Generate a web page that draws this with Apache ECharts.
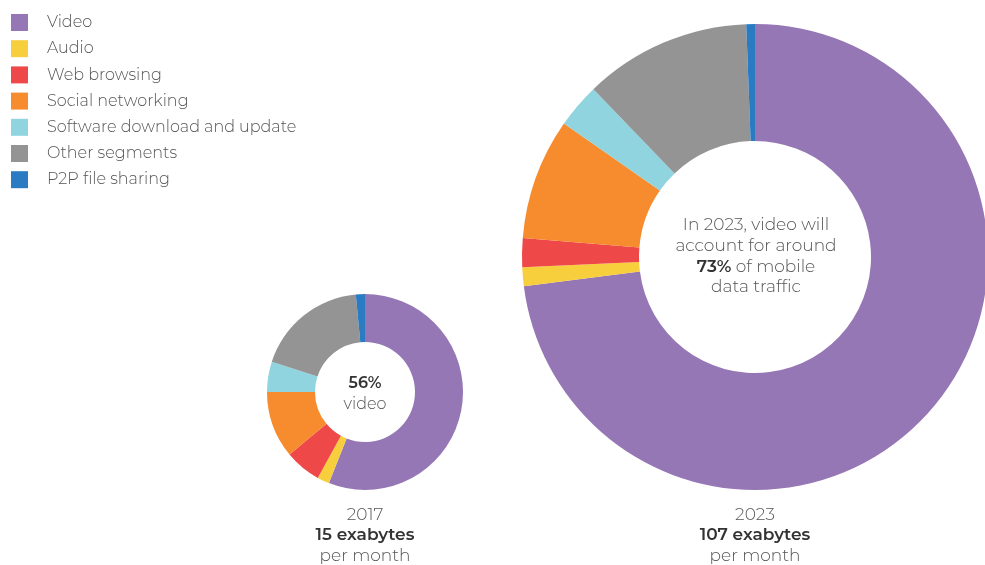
<!DOCTYPE html>
<html>
<head>
<meta charset="utf-8">
<script src="https://cdn.jsdelivr.net/npm/echarts@6/dist/echarts.min.js"></script>
<style>html,body{margin:0;padding:0;background:#fff}#c{width:985px;height:565px}</style>
</head>
<body>
<div id="c"></div>
<script>
const categories = ['Video', 'Audio', 'Web browsing', 'Social networking', 'Software download and update', 'Other segments', 'P2P file sharing'];
const share2017 = [56, 2, 6, 11, 5, 18.5, 1.5];
const share2023 = [73, 1.3, 2, 8.4, 3.1, 11.6, 0.6];
const colors = ['#9677b5', '#f7cf3d', '#ef4848', '#f68c2d', '#8fd4de', '#949494', '#2b7bc3'];

const FONT = 'Montserrat, "Noto Sans", "Open Sans", sans-serif';
const chart = echarts.init(document.getElementById('c'));

function mk(vals) { return categories.map((n, i) => ({ name: n, value: vals[i] })); }

function txt(x, y, text, size, bold) {
  return { type: 'text', x: x, y: y, silent: true, style: {
    text: text, fontFamily: FONT, fontSize: size, fontWeight: bold ? 600 : 300,
    fill: bold ? '#333' : '#555', align: 'center', verticalAlign: 'middle' } };
}

chart.setOption({
  animation: false,
  color: colors,
  legend: {
    orient: 'vertical', left: 11, top: 14, padding: 0,
    itemWidth: 17, itemHeight: 17, itemGap: 9.2,
    icon: 'rect',
    data: categories,
    selectedMode: false,
    textStyle: { fontFamily: FONT, fontSize: 16, fontWeight: 300, color: '#555', padding: [0, 0, 0, 14] }
  },
  series: [
    {
      type: 'pie', center: [365, 392], radius: [50, 98], startAngle: 90, clockwise: true,
      label: { show: false }, labelLine: { show: false }, silent: true,
      data: mk(share2017)
    },
    {
      type: 'pie', center: [755, 257], radius: [116, 233], startAngle: 90, clockwise: true,
      label: { show: false }, labelLine: { show: false }, silent: true,
      data: mk(share2023)
    }
  ],
  graphic: [
    txt(365, 383, '56%', 16, true),
    txt(365, 404, 'video', 16, false),
    txt(756, 225, 'In 2023, video will', 17, false),
    txt(756, 246, 'account for around', 17, false),
    { type: 'text', x: 756, y: 267, silent: true, style: {
        rich: { b: { fontFamily: FONT, fontSize: 17, fontWeight: 600, fill: '#333' },
                n: { fontFamily: FONT, fontSize: 17, fontWeight: 300, fill: '#555' } },
        text: '{b|73%}{n| of mobile}', align: 'center', verticalAlign: 'middle' } },
    txt(756, 287, 'data traffic', 17, false),
    txt(365, 515, '2017', 17, false),
    txt(365, 535, '15 exabytes', 17, true),
    txt(365, 556, 'per month', 17, false),
    txt(755, 515, '2023', 17, false),
    txt(755, 535, '107 exabytes', 17, true),
    txt(755, 556, 'per month', 17, false)
  ]
});
</script>
</body>
</html>
